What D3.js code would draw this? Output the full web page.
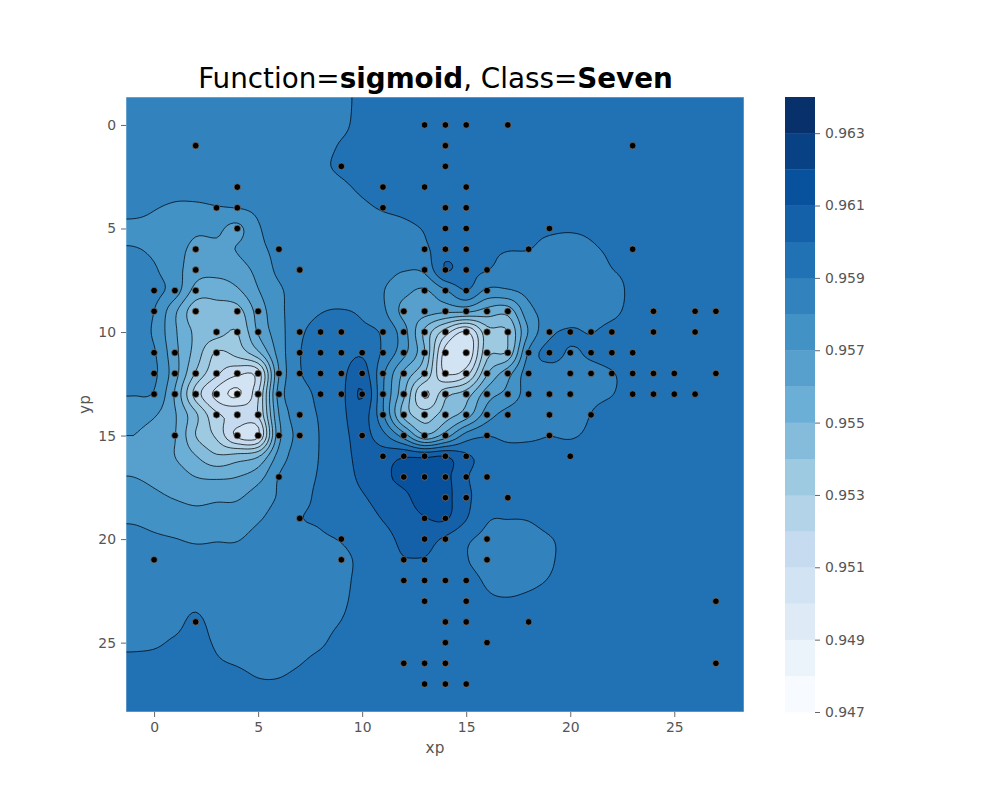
<!DOCTYPE html>
<html>
<head>
<meta charset="utf-8">
<script src="https://cdn.jsdelivr.net/npm/d3@7/dist/d3.min.js"></script>
<style>
html,body{margin:0;padding:0;background:#fff;}
svg{display:block;font-family:"DejaVu Sans",sans-serif;}
</style>
</head>
<body>
<svg id="chart" width="1000" height="800"></svg>
<script>
// Field: value = 0.9 + cell / 1000. Columns are xp = -1..28, rows are yp = -1..28.
const fieldXStart = -1;
const fieldYStart = -1;
const fieldRows = [
[58.5,58.5,58.5,58.5,58.5,58.5,58.5,58.55,58.6,58.7,58.85,59.15,59.3,59.4,59.5,59.5,59.5,59.5,59.5,59.5,59.5,59.5,59.5,59.5,59.5,59.5,59.5,59.5,59.5,59.5],
[58.5,58.5,58.5,58.5,58.5,58.5,58.5,58.55,58.6,58.7,58.87,59.2,59.35,59.45,59.5,59.5,59.5,59.5,59.5,59.5,59.5,59.5,59.5,59.5,59.5,59.5,59.5,59.5,59.5,59.5],
[58.5,58.5,58.5,57.98,58.5,58.5,58.5,58.55,58.6,58.8,59.05,59.25,59.4,59.45,59.5,59.5,59.5,59.5,59.5,59.5,59.5,59.5,59.5,59.5,59.5,59.5,59.5,59.5,59.5,59.5],
[58.5,58.5,58.5,58.5,58.5,58.5,58.5,58.55,58.7,58.9,59.1,59.3,59.4,59.45,59.5,59.5,59.5,59.5,59.5,59.5,59.5,59.5,59.5,59.5,59.5,59.5,59.5,59.5,59.5,59.5],
[58.5,58.4,58.25,58.3,58.35,58.4,58.5,58.55,58.6,58.75,58.9,59.1,59.25,59.35,59.4,59.5,59.5,59.5,59.5,59.5,59.5,59.5,59.5,59.5,59.5,59.5,59.5,59.5,59.5,59.5],
[58.35,58.05,57.9,57.85,57.95,58.02,58.2,58.5,58.5,58.6,58.75,58.9,59.05,59.15,59.3,59.5,59.5,59.5,59.5,59.5,59.5,59.5,59.5,59.5,59.5,59.5,59.5,59.5,59.5,59.5],
[57.75,57.75,57.6,57.2,57.2,56.75,57.9,58.35,58.5,58.55,58.6,58.7,58.75,58.85,59.05,59.4,59.5,59.5,59.5,59.25,59.15,59.1,59.2,59.5,59.5,59.5,59.5,59.5,59.5,59.5],
[58.05,57.85,57.4,56.75,56.8,57.05,57.75,58.25,58.5,58.55,58.55,58.6,58.55,58.6,58.85,59.5,59.5,59.2,59.05,59.02,58.7,58.6,58.85,59.2,59.5,59.5,59.5,59.5,59.5,59.5],
[58.35,58.1,57.4,56.4,56.3,56.55,57.3,58.2,58.45,58.5,58.5,58.5,58.35,58.05,58.2,60.05,59.3,59.03,58.55,58.45,58.4,58.4,58.5,58.97,59.3,59.5,59.5,59.5,59.5,59.5],
[58.4,58.3,57.5,55.65,55.45,55.85,56.95,57.85,58.4,58.6,58.6,58.55,58.05,57.3,56.9,57.9,58.98,57.8,57.9,58.25,58.4,58.35,58.4,58.5,59.3,59.5,59.5,59.5,59.5,59.5],
[58.5,58.0,56.2,54.4,54.55,54.6,56.4,57.75,58.5,58.95,59.05,58.85,58.2,56.7,56.4,56.2,56.2,55.6,55.4,57.7,58.2,58.4,58.5,58.75,59.3,59.5,59.5,59.5,59.5,59.5],
[58.5,57.85,56.15,54.8,54.4,54.0,56.1,57.6,58.8,59.4,59.5,59.25,58.85,57.4,54.8,52.5,50.9,53.6,54.0,57.1,58.75,59.1,58.97,59.3,59.5,59.5,59.5,59.5,59.5,59.5],
[58.6,58.1,56.3,54.6,52.9,53.4,54.8,57.4,58.95,59.5,59.6,59.85,58.85,57.3,55.0,50.6,50.0,53.7,54.2,58.15,59.3,58.9,59.15,59.4,59.5,59.5,59.5,59.5,59.5,59.5],
[58.5,58.2,56.4,53.9,52.2,51.2,51.5,57.0,58.9,59.4,59.75,60.5,58.2,55.8,54.0,50.9,51.6,54.9,56.6,58.5,58.6,58.6,58.7,58.95,59.3,59.5,59.5,59.5,59.5,59.5],
[58.05,57.9,55.9,52.6,50.7,49.85,51.9,57.4,58.55,59.25,59.75,61.05,58.1,55.2,51.9,53.7,54.5,56.5,57.3,58.4,58.6,58.7,58.8,58.97,59.4,59.5,59.5,59.5,59.5,59.5],
[57.4,57.1,56.1,54.2,52.2,51.8,52.0,57.0,58.5,59.1,59.75,60.5,58.15,54.7,53.5,54.5,55.5,57.5,58.35,58.55,58.7,58.6,59.02,59.4,59.5,59.5,59.5,59.5,59.5,59.5],
[57.0,56.6,56.05,54.0,52.8,50.8,50.8,56.7,58.3,59.05,59.7,60.3,59.3,57.5,55.2,56.5,58.4,58.95,58.75,58.8,58.98,58.9,59.2,59.5,59.5,59.5,59.5,59.5,59.5,59.5],
[56.8,56.5,56.0,55.05,54.15,54.4,54.9,57.4,58.5,59.05,59.65,60.3,60.5,60.9,60.85,61.0,60.15,59.7,59.5,59.5,59.5,59.5,59.5,59.5,59.5,59.5,59.5,59.5,59.5,59.5],
[57.0,56.8,56.5,56.0,55.85,56.0,56.6,58.05,58.65,59.1,59.6,60.2,60.8,61.2,61.3,61.25,60.1,59.6,59.5,59.5,59.5,59.5,59.5,59.5,59.5,59.5,59.5,59.5,59.5,59.5],
[57.45,57.2,56.95,56.75,56.85,56.9,57.5,58.1,58.7,59.2,59.55,59.9,60.4,60.8,61.4,61.3,60.2,59.6,59.5,59.5,59.5,59.5,59.5,59.5,59.5,59.5,59.5,59.5,59.5,59.5],
[57.9,57.75,57.55,57.35,57.4,57.45,57.9,58.35,58.95,59.1,59.3,59.6,60.05,60.5,60.95,61.1,60.05,59.1,59.02,59.05,59.3,59.5,59.5,59.5,59.5,59.5,59.5,59.5,59.5,59.5],
[58.2,58.1,58.02,57.9,57.95,57.95,58.3,58.5,58.65,58.9,59.05,59.4,59.7,60.2,60.3,59.85,59.15,58.8,58.7,58.75,58.95,59.25,59.5,59.5,59.5,59.5,59.5,59.5,59.5,59.5],
[58.4,58.35,58.3,58.25,58.2,58.3,58.5,58.6,58.65,58.7,58.8,59.2,59.55,59.95,59.95,59.6,59.05,58.7,58.55,58.65,58.9,59.3,59.5,59.5,59.5,59.5,59.5,59.5,59.5,59.5],
[58.5,58.45,58.45,58.4,58.4,58.45,58.55,58.6,58.65,58.7,58.8,59.25,59.5,59.5,59.5,59.5,59.3,58.9,58.7,58.8,59.05,59.4,59.5,59.5,59.5,59.5,59.5,59.5,59.5,59.5],
[58.6,58.6,58.65,58.8,58.5,58.5,58.55,58.6,58.65,58.7,58.85,59.35,59.5,59.5,59.5,59.5,59.5,59.15,59.08,59.2,59.4,59.5,59.5,59.5,59.5,59.5,59.5,59.5,59.5,59.5],
[58.7,58.75,58.8,59.15,58.7,58.55,58.55,58.6,58.65,58.75,59.02,59.45,59.5,59.5,59.5,59.5,59.5,59.5,59.5,59.5,59.5,59.5,59.5,59.5,59.5,59.5,59.5,59.5,59.5,59.5],
[58.85,58.9,59.1,59.3,58.9,58.7,58.65,58.7,58.75,58.9,59.3,59.5,59.5,59.5,59.5,59.5,59.5,59.5,59.5,59.5,59.5,59.5,59.5,59.5,59.5,59.5,59.5,59.5,59.5,59.5],
[59.2,59.25,59.35,59.45,59.1,58.95,58.8,58.8,58.97,59.25,59.5,59.5,59.5,59.5,59.5,59.5,59.5,59.5,59.5,59.5,59.5,59.5,59.5,59.5,59.5,59.5,59.5,59.5,59.5,59.5],
[59.4,59.45,59.5,59.5,59.4,59.3,59.1,59.1,59.3,59.5,59.5,59.5,59.5,59.5,59.5,59.5,59.5,59.5,59.5,59.5,59.5,59.5,59.5,59.5,59.5,59.5,59.5,59.5,59.5,59.5],
[59.5,59.5,59.5,59.5,59.5,59.5,59.5,59.5,59.5,59.5,59.5,59.5,59.5,59.5,59.5,59.5,59.5,59.5,59.5,59.5,59.5,59.5,59.5,59.5,59.5,59.5,59.5,59.5,59.5,59.5]
];
// Scatter points: index is yp, entries are the xp values on that row.
const pointXsByRow = [
[13,14,15,17],
[2,14,23],
[9,14],
[4,11,13,15],
[3,4,11,14,15],
[4,14,15,19],
[2,6,13,14,15,18,23],
[2,7,13,14,15,16],
[0,1,2,13,14,15,16],
[0,2,4,5,12,13,14,15,16,17,24,26,27],
[3,4,5,7,8,9,11,12,13,14,15,16,17,19,20,21,22,24,26],
[0,1,3,7,8,9,10,11,12,13,14,15,16,17,18,19,20,21,22,23],
[0,1,2,3,4,5,6,7,8,9,10,11,12,13,14,15,16,17,18,20,21,22,23,24,25,27],
[0,1,2,3,4,5,6,8,9,10,11,12,13,14,15,16,17,18,19,20,23,24,25,26],
[3,4,5,7,11,12,13,14,15,16,17,19,21],
[1,4,5,6,7,10,12,13,14,16,19],
[11,12,13,14,15,20],
[6,12,13,14,15,16],
[14,15,17],
[7,13,14],
[9,13,14,16],
[0,9,12,13,16],
[12,13,14,15],
[13,15,27],
[2,14,15,18],
[14,16],
[12,13,14,27],
[13,14,15]
];
const contourLevels = [0.947,0.948,0.949,0.950,0.951,0.952,0.953,0.954,0.955,0.956,0.957,0.958,0.959,0.960,0.961,0.962,0.963,0.964];
const colorbarTicks = [0.947,0.949,0.951,0.953,0.955,0.957,0.959,0.961,0.963];
const xTicks = [0,5,10,15,20,25];
const yTicks = [0,5,10,15,20,25];
const blues = ["#f7fbff","#deebf7","#c6dbef","#9ecae1","#6baed6","#4292c6","#2171b5","#08519c","#08306b"];
const titleParts = [["Function=",false],["sigmoid",true],[", Class=",false],["Seven",true]];

const svg = d3.select("#chart");
const left = 126, right = 744, top_ = 97, bottom = 712;
const x = d3.scaleLinear().domain([-1.35,28.35]).range([left,right]);
const y = d3.scaleLinear().domain([-1.35,28.35]).range([top_,bottom]);
const cmap = d3.piecewise(d3.interpolateRgb, blues);
const bandColor = i => cmap(i/(contourLevels.length-2));

// Smooth resampling of the read field for drawing: Catmull-Rom, held within each cell's corner range.
const cell = (i,j) => {
  const r = fieldRows[Math.max(0,Math.min(fieldRows.length-1,j))];
  return r[Math.max(0,Math.min(r.length-1,i))];
};
const cr = (a,b,c,d,t) => 0.5*((2*b)+(c-a)*t+(2*a-5*b+4*c-d)*t*t+(3*b-a-3*c+d)*t*t*t);
function sample(px,py){
  const fx = px-fieldXStart, fy = py-fieldYStart;
  const i = Math.floor(fx), j = Math.floor(fy), tx = fx-i, ty = fy-j;
  const col = [];
  for(let k=-1;k<=2;k++){
    col.push(cr(cell(i-1,j+k),cell(i,j+k),cell(i+1,j+k),cell(i+2,j+k),tx));
  }
  const v = cr(col[0],col[1],col[2],col[3],ty);
  const corners = [cell(i,j),cell(i+1,j),cell(i,j+1),cell(i+1,j+1)];
  return Math.max(d3.min(corners),Math.min(d3.max(corners),v));
}
const factor = 6, gx0 = -2, gy0 = -2, span = 31;
const w = span*factor+1, h = span*factor+1;
const values = new Array(w*h);
for(let j=0;j<h;j++) for(let i=0;i<w;i++){
  values[j*w+i] = 0.9 + sample(gx0+i/factor, gy0+j/factor)/1000;
}
const contours = d3.contours().size([w,h]).thresholds(contourLevels)(values);
const path = d3.geoPath(d3.geoTransform({
  point(a,b){ this.stream.point(x(gx0+(a-0.5)/factor), y(gy0+(b-0.5)/factor)); }
}));

svg.append("defs").append("clipPath").attr("id","plotClip").append("rect")
  .attr("x",left).attr("y",top_).attr("width",right-left).attr("height",bottom-top_);
const plot = svg.append("g").attr("clip-path","url(#plotClip)");
plot.append("rect").attr("x",left).attr("y",top_).attr("width",right-left).attr("height",bottom-top_).attr("fill",bandColor(0));
plot.selectAll("path.band").data(contours.slice(0,contourLevels.length-1)).join("path")
  .attr("class","band").attr("d",path).attr("fill",(d,i)=>bandColor(i)).attr("stroke",(d,i)=>bandColor(i)).attr("stroke-width",0.3);
plot.selectAll("path.line").data(contours).join("path")
  .attr("class","line").attr("d",path).attr("fill","none").attr("stroke","#000").attr("stroke-width",0.85).attr("stroke-opacity",0.85);

const points = pointXsByRow.flatMap((xs,row)=>xs.map(v=>[v,row]));
plot.selectAll("circle").data(points).join("circle")
  .attr("cx",d=>x(d[0])).attr("cy",d=>y(d[1])).attr("r",3.3)
  .attr("fill","#000").attr("stroke","#85786e").attr("stroke-width",0.7);

svg.append("rect").attr("x",left).attr("y",top_).attr("width",right-left).attr("height",bottom-top_)
  .attr("fill","none").attr("stroke","#fff").attr("stroke-width",1).attr("stroke-opacity",0.5);

function styleAxis(g){
  g.select(".domain").remove();
  g.selectAll("line").attr("stroke","#555").attr("stroke-width",0.9);
  g.selectAll("text").attr("fill","#555").attr("font-size","13.9px").attr("font-family",'"DejaVu Sans",sans-serif');
}
svg.append("g").attr("transform",`translate(0,${bottom})`)
  .call(d3.axisBottom(x).tickValues(xTicks).tickSize(5).tickPadding(5).tickFormat(d3.format("d"))).call(styleAxis);
svg.append("g").attr("transform",`translate(${left},0)`)
  .call(d3.axisLeft(y).tickValues(yTicks).tickSize(5).tickPadding(5).tickFormat(d3.format("d"))).call(styleAxis);

svg.append("text").attr("x",435).attr("y",753).attr("text-anchor","middle").attr("fill","#555").attr("font-size","15.3px").text("xp");
svg.append("text").attr("transform","translate(90,404.5) rotate(-90)").attr("text-anchor","middle").attr("fill","#555").attr("font-size","15.3px").text("yp");

const title = svg.append("text").attr("x",435.5).attr("y",88).attr("text-anchor","middle").attr("fill","#000").attr("font-size","27.8px");
title.selectAll("tspan").data(titleParts).join("tspan").attr("font-weight",d=>d[1]?"bold":"normal").text(d=>d[0]);

// Colour bar
const cbX0 = 785, cbX1 = 815;
const cb = d3.scaleLinear().domain([0.947,0.964]).range([bottom,top_]);
svg.append("g").selectAll("rect").data(d3.pairs(contourLevels)).join("rect")
  .attr("x",cbX0).attr("width",cbX1-cbX0)
  .attr("y",d=>cb(d[1])).attr("height",d=>cb(d[0])-cb(d[1])+0.3)
  .attr("fill",(d,i)=>bandColor(i));
svg.append("g").attr("transform",`translate(${cbX1},0)`)
  .call(d3.axisRight(cb).tickValues(colorbarTicks).tickSize(5).tickPadding(5).tickFormat(d3.format(".3f"))).call(styleAxis);
</script>
</body>
</html>
